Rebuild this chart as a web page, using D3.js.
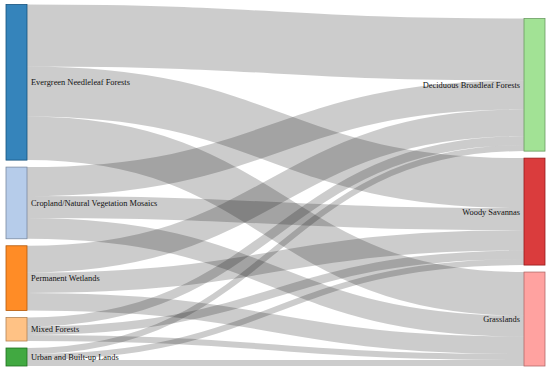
<!DOCTYPE html>
<html>
<head>
<meta charset="utf-8">
<script src="https://cdn.jsdelivr.net/npm/d3@7"></script>
<style>
  body { margin: 0; background: #fff; }
  .link { fill: none; stroke: #000; stroke-opacity: 0.2; }
  .node text { font-family: "Liberation Serif", "Times New Roman", serif; font-size: 8.4px; fill: #111; }
</style>
</head>
<body>
<svg id="chart" width="550" height="372"></svg>
<script>
// land cover classes, left column (from) and right column (to)
const sourceNames = ["Evergreen Needleleaf Forests", "Cropland/Natural Vegetation Mosaics",
    "Permanent Wetlands", "Mixed Forests", "Urban and Built-up Lands"];
const targetNames = ["Deciduous Broadleaf Forests", "Woody Savannas", "Grasslands"];

// flow from each source (same order as sourceNames) into each target
const toDeciduous = [62, 29, 26.7, 9, 6];
const toWoody = [50, 22, 20.5, 8.5, 6];
const toGrasslands = [43.7, 20.7, 17.6, 6, 6];

const nodeColors = ["#1f77b4", "#aec7e8", "#ff7f0e", "#ffbb78", "#2ca02c",
    "#98df8a", "#d62728", "#ff9896"];

const width = 550, height = 372;
const extent = { x0: 6, x1: 545, y0: 4.5, y1: 366 };
const nodeWidth = 21, nodePadding = 7;

const svg = d3.select("#chart");

// build nodes + links
const flows = [toDeciduous, toWoody, toGrasslands];
const nodes = sourceNames.map((name, i) => ({ name, col: 0, index: i }))
    .concat(targetNames.map((name, j) => ({ name, col: 1, index: sourceNames.length + j })));
const links = [];
flows.forEach((arr, j) => {
    arr.forEach((v, i) => {
        links.push({ source: nodes[i], target: nodes[sourceNames.length + j], value: v });
    });
});
nodes.forEach(n => {
    n.sourceLinks = links.filter(l => l.source === n);
    n.targetLinks = links.filter(l => l.target === n);
    n.value = Math.max(d3.sum(n.sourceLinks, l => l.value), d3.sum(n.targetLinks, l => l.value));
});

const left = nodes.filter(n => n.col === 0);
const right = nodes.filter(n => n.col === 1);

// vertical scale set by the fuller column
const ky = d3.min([left, right], col =>
    (extent.y1 - extent.y0 - (col.length - 1) * nodePadding) / d3.sum(col, n => n.value));
const y = d3.scaleLinear().domain([0, 1]).range([0, ky]);
const x = d3.scaleLinear().domain([0, 1]).range([extent.x0, extent.x1 - nodeWidth]);

nodes.forEach(n => {
    n.x0 = x(n.col);
    n.x1 = n.x0 + nodeWidth;
});

// left column stacked from the top
let yy = extent.y0;
left.forEach(n => {
    n.y0 = yy;
    n.y1 = yy + y(n.value);
    yy = n.y1 + nodePadding;
});
// right column pushed down against the bottom
yy = extent.y1;
right.slice().reverse().forEach(n => {
    n.y1 = yy;
    n.y0 = yy - y(n.value);
    yy = n.y0 - nodePadding;
});

links.forEach(l => l.width = y(l.value));
nodes.forEach(n => {
    n.sourceLinks.sort((a, b) => a.target.y0 - b.target.y0);
    n.targetLinks.sort((a, b) => a.source.y0 - b.source.y0);
    let s = n.y0, t = n.y0;
    n.sourceLinks.forEach(l => { l.y0 = s + l.width / 2; s += l.width; });
    n.targetLinks.forEach(l => { l.y1 = t + l.width / 2; t += l.width; });
});

const linkPath = d3.linkHorizontal()
    .source(d => [d.source.x1, d.y0])
    .target(d => [d.target.x0, d.y1]);

svg.append("g")
    .selectAll("path")
    .data(links)
    .join("path")
    .attr("class", "link")
    .attr("d", linkPath)
    .attr("stroke-width", d => Math.max(1, d.width));

const node = svg.append("g")
    .selectAll("g")
    .data(nodes)
    .join("g")
    .attr("class", "node");

node.append("rect")
    .attr("x", d => d.x0)
    .attr("y", d => d.y0)
    .attr("width", nodeWidth)
    .attr("height", d => d.y1 - d.y0)
    .attr("fill", d => nodeColors[d.index])
    .attr("fill-opacity", 0.9)
    .attr("stroke", d => d3.rgb(nodeColors[d.index]).darker(1))
    .attr("stroke-width", 0.8);

node.append("text")
    .attr("x", d => d.col === 0 ? d.x1 + 4 : d.x0 - 4)
    .attr("y", d => (d.y0 + d.y1) / 2)
    .attr("dy", "0.35em")
    .attr("text-anchor", d => d.col === 0 ? "start" : "end")
    .text(d => d.name);
</script>
</body>
</html>
